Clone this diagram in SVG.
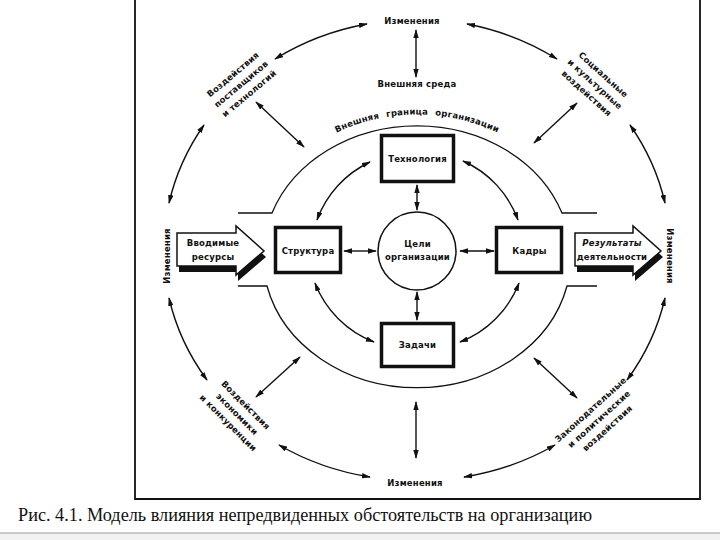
<svg xmlns="http://www.w3.org/2000/svg" width="720" height="540" viewBox="0 0 720 540">
<defs>
<style>
.t{font-family:"DejaVu Sans","Liberation Sans",sans-serif;font-weight:bold;font-size:8.5px;letter-spacing:0.2px;text-anchor:middle;fill:#111}
.cap{font-family:"Liberation Serif","Times New Roman",serif;font-size:18px;fill:#111}
.box{fill:#fff;stroke:#111;stroke-width:3.5}
.ln{fill:none;stroke:#111;stroke-width:1.3}
.ar{fill:none;stroke:#111;stroke-width:1.4;marker-start:url(#ah);marker-end:url(#ah)}
.frame{fill:none;stroke:#111;stroke-width:1.8}
</style>
<marker id="ah" viewBox="0 0 10 6" refX="9" refY="3" markerWidth="9" markerHeight="5.5" markerUnits="userSpaceOnUse" orient="auto-start-reverse">
<path d="M0,0 L10,3 L0,6 Z" fill="#111"/>
</marker>
<path id="bpath" d="M 252 257.5 A 165 143 0 0 1 582 257.5"/>
</defs>
<rect width="720" height="540" fill="#fff"/>
<rect x="0" y="533" width="720" height="7" fill="#f2f2f2"/>
<line x1="0" y1="533" x2="720" y2="533" stroke="#999" stroke-width="1"/>
<path class="frame" d="M135,0 V499 H700 V0"/>

<g id="boundary">
<path class="ln" d="M238,213 H272 A154 131.5 0 0 1 562,213 H597"/>
<path class="ln" d="M238,286 H267 A154 131.5 0 0 0 567,286 H597"/>
<text class="t" style="word-spacing:4px"><textPath href="#bpath" startOffset="50%">Внешняя граница организации</textPath></text>
</g>

<g id="connectors">
<path class="ar" d="M367,24 A252 232 0 0 0 275,59"/>
<path class="ar" d="M467,24 A252 232 0 0 1 557,59"/>
<path class="ar" d="M204,125 A252 232 0 0 0 169,203"/>
<path class="ar" d="M169,298 A252 232 0 0 0 207,380"/>
<path class="ar" d="M279,445 A252 232 0 0 0 370,477"/>
<path class="ar" d="M464,477 A252 232 0 0 0 555,445"/>
<path class="ar" d="M627,380 A252 232 0 0 0 665,298"/>
<path class="ar" d="M665,203 A252 232 0 0 0 630,125"/>
<line class="ar" x1="416" y1="30" x2="416" y2="77"/>
<line class="ar" x1="416" y1="402" x2="416" y2="458"/>
<line class="ar" x1="256" y1="102" x2="304" y2="147"/>
<line class="ar" x1="577" y1="103" x2="534" y2="143"/>
<line class="ar" x1="300" y1="357" x2="256" y2="397"/>
<line class="ar" x1="534" y1="358" x2="577" y2="398"/>
<path class="ar" d="M370,162 A103 103 0 0 0 317,220"/>
<path class="ar" d="M463,161 A103 103 0 0 1 518,220"/>
<path class="ar" d="M315,283 A103 103 0 0 0 374,342"/>
<path class="ar" d="M519,283 A103 103 0 0 1 460,342"/>
<line class="ar" x1="417" y1="185" x2="417" y2="210"/>
<line class="ar" x1="417" y1="292" x2="417" y2="320"/>
<line class="ar" x1="344" y1="251" x2="376" y2="251"/>
<line class="ar" x1="460" y1="251" x2="494" y2="251"/>
</g>

<g id="tech"><rect class="box" x="381.5" y="135.5" width="72" height="46"/><text class="t" x="417.5" y="161.5">Технология</text></g>
<g id="structure"><rect class="box" x="275.5" y="227.5" width="65" height="45"/><text class="t" x="308" y="253.5">Структура</text></g>
<g id="staff"><rect class="box" x="496.5" y="227.5" width="65" height="45"/><text class="t" x="529.5" y="253.5">Кадры</text></g>
<g id="tasks"><rect class="box" x="381.5" y="323.5" width="72" height="43"/><text class="t" x="417.5" y="348">Задачи</text></g>
<g id="goals"><circle cx="417" cy="251" r="39" fill="#fff" stroke="#111" stroke-width="1.5"/>
<text class="t" x="417.5" y="247">Цели</text><text class="t" x="417.5" y="259.5">организации</text></g>

<g id="inputs">
<path d="M179,239 H238 V232 L266,257 L238,281 V272 H179 Z" fill="#111"/>
<path d="M177,233 H236 V226 L264,251 L236,275 V266 H177 Z" fill="#fff" stroke="#111" stroke-width="1.5"/>
<text class="t" x="213" y="246">Вводимые</text><text class="t" x="213" y="259.5">ресурсы</text>
</g>
<g id="outputs">
<path d="M577,239 H635 V232 L663,257 L635,281 V272 H577 Z" fill="#111"/>
<path d="M575,233 H633 V226 L661,251 L633,275 V266 H575 Z" fill="#fff" stroke="#111" stroke-width="1.5"/>
<text class="t" x="612" y="246" style="font-style:italic">Результаты</text><text class="t" x="612" y="259.5">деятельности</text>
</g>

<g id="change-top"><text class="t" x="412" y="24">Изменения</text></g>
<g id="env"><text class="t" x="417" y="87">Внешняя среда</text></g>
<g id="change-bottom"><text class="t" x="415" y="486">Изменения</text></g>
<g id="change-left"><text class="t" transform="translate(167,256) rotate(-90)" y="3">Изменения</text></g>
<g id="change-right"><text class="t" transform="translate(670,256) rotate(90)" y="3">Изменения</text></g>

<g id="suppliers" transform="translate(241,84) rotate(-40)">
<text class="t" y="-9.5">Воздействия</text><text class="t" y="3">поставщиков</text><text class="t" y="15.5">и технологий</text>
</g>
<g id="social" transform="translate(595,84) rotate(42)">
<text class="t" y="-9.5">Социальные</text><text class="t" y="3">и культурные</text><text class="t" y="15.5">воздействия</text>
</g>
<g id="economy" transform="translate(237,414) rotate(45)">
<text class="t" y="-9.5">Воздействия</text><text class="t" y="3">экономики</text><text class="t" y="15.5">и конкуренции</text>
</g>
<g id="politics" transform="translate(599,419) rotate(-42)">
<text class="t" y="-9.5">Законодательные</text><text class="t" y="3">и политические</text><text class="t" y="15.5">воздействия</text>
</g>

<text class="cap" x="18" y="521" textLength="574" lengthAdjust="spacingAndGlyphs">Рис. 4.1. Модель влияния непредвиденных обстоятельств на организацию</text>
</svg>
